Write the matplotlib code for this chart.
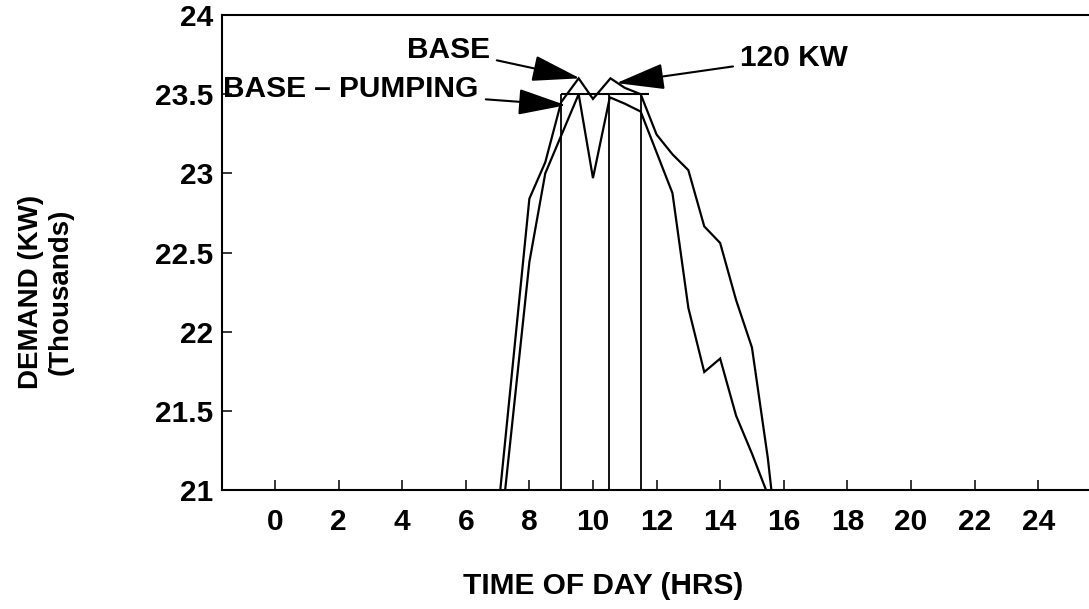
import matplotlib
matplotlib.use("Agg")
import matplotlib.pyplot as plt

plt.rcParams['font.family'] = ['Liberation Sans', 'DejaVu Sans']

# ---- data ----
base_hours = [7.0, 8.0, 8.5, 9.0, 9.55, 10.0, 10.55, 11.0, 11.5, 12.0, 12.5, 13.0,
              13.5, 14.0, 14.5, 15.0, 15.5, 16.0]
base_kw = [20.83, 22.84, 23.07, 23.45, 23.60, 23.47, 23.60, 23.54, 23.50, 23.245,
           23.12, 23.02, 22.665, 22.56, 22.20, 21.90, 21.20, 20.30]

kw120_hours = [7.0, 8.0, 8.5, 9.55, 10.0, 10.53, 11.0, 11.5, 12.5, 13.0, 13.5, 14.0,
               14.5, 15.0, 15.5]
kw120_kw = [20.55, 22.44, 23.00, 23.50, 22.97, 23.48, 23.44, 23.39, 22.875, 22.15,
            21.745, 21.83, 21.47, 21.23, 20.97]

pump_level = 23.5
pump_start = 9.0
pump_end = 11.75
pump_steps = [9.0, 10.5, 11.5]

x_ticks = list(range(0, 25, 2))
y_ticks = [21, 21.5, 22, 22.5, 23, 23.5, 24]
y_tick_labels = ['21', '21.5', '22', '22.5', '23', '23.5', '24']

FS = 21.5
W = 'bold'

fig = plt.figure(figsize=(10.89, 6.09), dpi=100)
ax = fig.add_axes([222 / 1089, 1 - 490 / 609, (1089 - 222) / 1089, (490 - 15) / 609])

ax.plot(base_hours, base_kw, color='black', lw=1.6, solid_joinstyle='miter')
ax.plot(kw120_hours, kw120_kw, color='black', lw=1.6, solid_joinstyle='miter')
ax.hlines(pump_level, pump_start, pump_end, color='black', lw=1.5)
ax.vlines(pump_steps, 21, pump_level, color='black', lw=1.3)

ax.set_xlim(-1.667, 25.6)
ax.set_ylim(21, 24)

ax.set_xticks(x_ticks)
ax.set_xticklabels([str(t) for t in x_ticks], fontsize=FS, fontweight=W)
ax.set_yticks(y_ticks)
ax.set_yticklabels(y_tick_labels, fontsize=FS, fontweight=W)
ax.tick_params(axis='x', direction='in', length=7.5, width=1.1, pad=13)
ax.tick_params(axis='y', direction='in', length=7.5, width=1.1, pad=6)

for s in ['left', 'bottom', 'top']:
    ax.spines[s].set_linewidth(1.5)
ax.spines['right'].set_visible(False)

arrow = dict(arrowstyle='-|>,head_length=1.4,head_width=0.38', color='black',
             lw=1.5, shrinkA=3, shrinkB=0)
ax.annotate('BASE', xy=(9.59, 23.60), xytext=(6.76, 23.78), ha='right', va='center',
            fontsize=FS, fontweight=W, arrowprops=arrow)
ax.annotate('BASE \u2013 PUMPING', xy=(9.15, 23.43), xytext=(-1.62, 23.53), ha='left',
            va='center', fontsize=FS, fontweight=W, arrowprops=arrow)
ax.annotate('120 KW', xy=(10.74, 23.57), xytext=(14.62, 23.73), ha='left', va='center',
            fontsize=FS, fontweight=W, arrowprops=arrow)

fig.text(603 / 1089, 1 - 586 / 609, 'TIME OF DAY (HRS)', ha='center', va='center',
         fontsize=FS, fontweight=W)
fig.text(46 / 1089, 1 - 292 / 609, 'DEMAND (KW)\n(Thousands)', rotation=90,
         ha='center', va='center', multialignment='center', fontsize=20, fontweight=W)

fig.savefig('out.png', dpi=100)
